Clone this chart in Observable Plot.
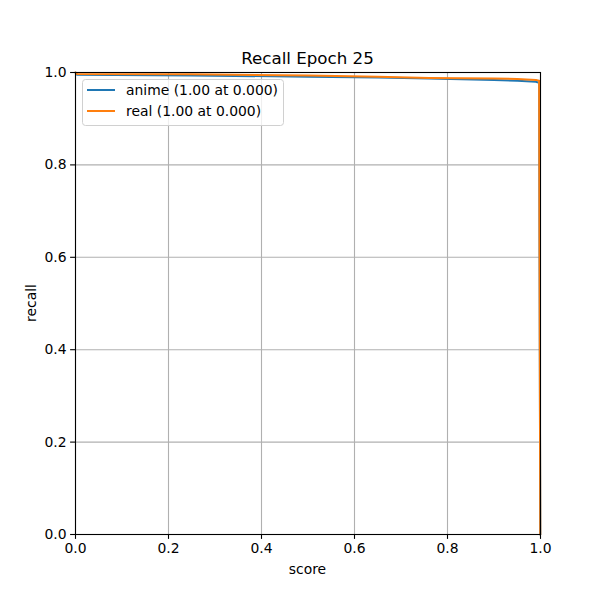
<!DOCTYPE html>
<html>
<head>
<meta charset="utf-8">
<script src="https://cdn.jsdelivr.net/npm/d3@7"></script>
<script src="https://cdn.jsdelivr.net/npm/@observablehq/plot@0.6"></script>
<style>
  html, body { margin: 0; padding: 0; background: #fff; }
  svg { font-family: "DejaVu Sans", sans-serif; }
</style>
</head>
<body>
<div id="chart"></div>
<script>
const title = "Recall Epoch 25";
const xLabel = "score";
const yLabel = "recall";
const seriesNames = ["anime (1.00 at 0.000)", "real (1.00 at 0.000)"];
const colors = ["#1f77b4", "#ff7f0e"];
const scores = [0, 0.003, 0.25, 0.5, 0.65, 0.76, 0.9, 0.95, 0.99, 0.997, 0.9995];
const animeRecall = [1.0, 0.995, 0.9935, 0.991, 0.989, 0.987, 0.984, 0.982, 0.980, 0.978, 0.0];
const realRecall  = [1.0, 0.997, 0.996, 0.9935, 0.991, 0.988, 0.987, 0.986, 0.984, 0.982, 0.0];
const ticks = [0, 0.2, 0.4, 0.6, 0.8, 1.0];

const rows = [];
scores.forEach((s, i) => {
  rows.push({score: s, recall: animeRecall[i], series: seriesNames[0]});
  rows.push({score: s, recall: realRecall[i], series: seriesNames[1]});
});

const W = 600, H = 600;
const mL = 75, mR = 60, mT = 72, mB = 66;

const chart = Plot.plot({
  width: W, height: H,
  marginLeft: mL, marginRight: mR, marginTop: mT, marginBottom: mB,
  style: {fontFamily: "DejaVu Sans, sans-serif", fontSize: "13.9px", color: "#000", background: "#fff"},
  x: {domain: [0, 1]},
  y: {domain: [0, 1]},
  color: {domain: seriesNames, range: colors},
  marks: [
    Plot.gridX(ticks, {stroke: "#b0b0b0", strokeOpacity: 1, strokeWidth: 1.1}),
    Plot.gridY(ticks, {stroke: "#b0b0b0", strokeOpacity: 1, strokeWidth: 1.1}),
    Plot.line(rows, {x: "score", y: "recall", z: "series", stroke: "series", strokeWidth: 2}),
    Plot.frame({stroke: "#000", strokeWidth: 1.1}),
    Plot.axisX({ticks, tickFormat: d3.format(".1f"), tickSize: 4.9, tickPadding: 4, label: null, fontSize: 13.9, strokeWidth: 1.1}),
    Plot.axisY({ticks, tickFormat: d3.format(".1f"), tickSize: 4.9, tickPadding: 4, label: null, fontSize: 13.9, strokeWidth: 1.1})
  ]
});

const svg = d3.select(chart);
const cx = mL + (W - mL - mR) / 2;
const cy = mT + (H - mT - mB) / 2;
svg.append("text").attr("x", cx).attr("y", 64).attr("text-anchor", "middle")
  .attr("font-size", "16.7px").attr("fill", "#000").text(title);
svg.append("text").attr("x", cx).attr("y", 574).attr("text-anchor", "middle")
  .attr("font-size", "13.9px").attr("fill", "#000").text(xLabel);
svg.append("text").attr("transform", `translate(36,${cy}) rotate(-90)`).attr("text-anchor", "middle")
  .attr("font-size", "13.9px").attr("fill", "#000").text(yLabel);

// legend
const lg = svg.append("g").attr("text-anchor", "start");
lg.append("rect").attr("x", 82.5).attr("y", 79.5).attr("width", 201).attr("height", 46)
  .attr("rx", 3).attr("fill", "#fff").attr("fill-opacity", 0.8).attr("stroke", "#d0d0d0").attr("stroke-width", 1);
seriesNames.forEach((name, i) => {
  const y = 90 + i * 21;
  lg.append("line").attr("x1", 87).attr("x2", 115).attr("y1", y).attr("y2", y)
    .attr("stroke", colors[i]).attr("stroke-width", 2);
  lg.append("text").attr("x", 126).attr("y", y + 5).attr("text-anchor", "start")
    .attr("font-size", "13.9px").attr("fill", "#000").text(name);
});

document.getElementById("chart").appendChild(chart);
</script>
</body>
</html>
